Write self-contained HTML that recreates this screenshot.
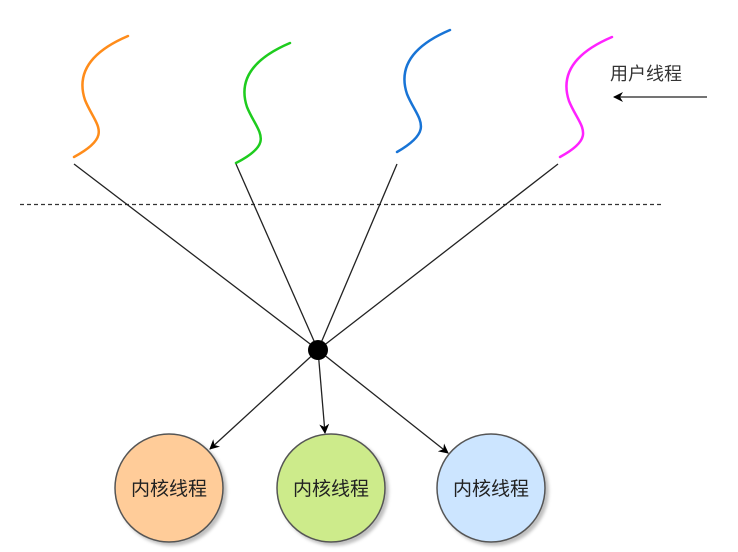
<!DOCTYPE html>
<html><head><meta charset="utf-8"><style>
html,body{margin:0;padding:0;background:#fff;}
svg{display:block;}
text{font-family:"Liberation Sans","Noto Sans CJK SC",sans-serif;}
</style></head><body>
<svg width="738" height="552" viewBox="0 0 738 552" xmlns="http://www.w3.org/2000/svg">
<defs>
<marker id="ah" markerWidth="10" markerHeight="10" refX="9" refY="5" orient="auto" markerUnits="userSpaceOnUse">
<path d="M0,0 L10,5 L0,10 L3,5 Z" fill="#000"/>
</marker>
<filter id="sh" x="-20%" y="-20%" width="150%" height="150%">
<feDropShadow dx="3" dy="3" stdDeviation="1.5" flood-color="#000" flood-opacity="0.25"/>
</filter>
</defs>
<g fill="none" stroke-width="2.5" stroke-linecap="round">
<path d="M128,36 C95,50 75,70 85,100 C95,125 115,135 74,157" stroke="#ff8c1a"/>
<path d="M290,43 C257,57 237,77 247,107 C257,132 277,142 236,163" stroke="#1ecc1e"/>
<path d="M450,30 C417,44 397,64 407,94 C417,119 437,129 397,152" stroke="#1874d6"/>
<path d="M612,37 C579,51 559,71 569,101 C579,126 599,136 560,157" stroke="#ff22ff"/>
</g>
<line x1="20" y1="204.5" x2="663" y2="204.5" stroke="#333" stroke-width="1.3" stroke-dasharray="4,3"/>
<g stroke="#222" stroke-width="1.3">
<line x1="74" y1="164" x2="318" y2="350"/>
<line x1="236" y1="164" x2="318" y2="350"/>
<line x1="397" y1="164" x2="318" y2="350"/>
<line x1="558" y1="164" x2="318" y2="350"/>
<line x1="318" y1="350" x2="210" y2="449" marker-end="url(#ah)"/>
<line x1="318" y1="350" x2="325" y2="433" marker-end="url(#ah)"/>
<line x1="318" y1="350" x2="448" y2="453" marker-end="url(#ah)"/>
<line x1="707" y1="97" x2="614" y2="97" marker-end="url(#ah)"/>
</g>
<circle cx="318" cy="350" r="10" fill="#000"/>
<text x="610" y="80" font-size="18" fill="#333">用户线程</text>
<g stroke="#555" stroke-width="1.5" filter="url(#sh)">
<circle cx="169" cy="488" r="54" fill="#ffcc99"/>
<circle cx="331" cy="488" r="54" fill="#cdeb8b"/>
<circle cx="491" cy="488" r="54" fill="#cce5ff"/>
</g>
<g font-size="19" fill="#222" text-anchor="middle">
<text x="169" y="495">内核线程</text>
<text x="331" y="495">内核线程</text>
<text x="491" y="495">内核线程</text>
</g>
</svg>
</body></html>
